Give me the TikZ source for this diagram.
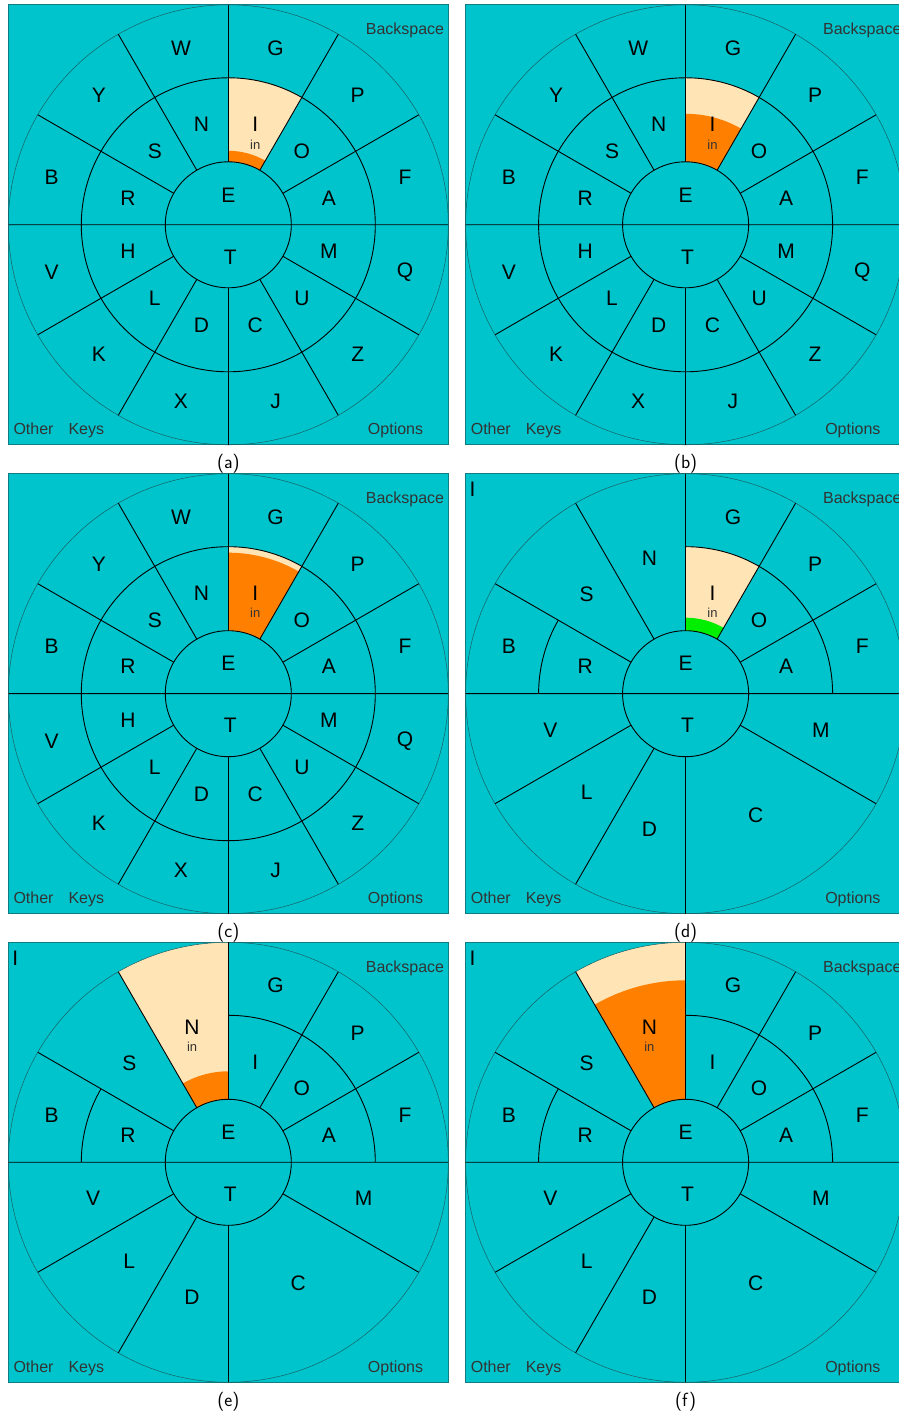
\documentclass[tikz,border=0pt]{standalone}
\usepackage{fontspec}
\setmainfont{Liberation Sans}
\usetikzlibrary{positioning}

\definecolor{keybg}{RGB}{0,196,204}
\definecolor{keyhit}{RGB}{255,228,181}
\definecolor{dwell}{RGB}{255,128,0}
\definecolor{dwellok}{RGB}{0,238,0}
\definecolor{rimgray}{RGB}{25,95,100}

\newcommand{\keysector}[5]{%
  \fill[#5] (#1:#3) -- (#1:#4) arc[start angle=#1, end angle=#2, radius=#4]
    -- (#2:#3) arc[start angle=#2, end angle=#1, radius=#3] -- cycle;}

\newcommand{\kbpanel}[1]{%
  \fill[keybg] (-220,-220) rectangle (220,220);
  \draw[panelframe] (-220,-220) rectangle (220,220);
  \node[cornerlabel, anchor=base east] (#1-bksp) at (216,190) {Backspace};
  \node[cornerlabel, anchor=base west] (#1-other) at (-215,-210) {Other};
  \node[cornerlabel, anchor=base west] (#1-keys) at (-160,-210) {Keys};
  \node[cornerlabel, anchor=base east] (#1-opts) at (195,-210) {Options};
  \node[captionlabel] (#1-cap) at (0,-239) {(#1)};}

\newcommand{\fullwheel}[1]{%
  \draw[wheelline] (0,0) circle[radius=63] (0,0) circle[radius=147] (-220,0) -- (220,0);
  \draw[rimline] (0,0) circle[radius=220];
  \foreach \a in {30,60,90,120,150,210,240,270,300,330}
    \draw[wheelline] (\a:63) -- (\a:220);
  \foreach \a/\m/\o in {15/A/F,45/O/P,75/I/G,105/N/W,135/S/Y,165/R/B,
                        195/H/V,225/L/K,255/D/X,285/C/J,315/U/Z,345/M/Q} {
    \node[keylabel] (#1-\m) at (\a:104) {\m};
    \node[keylabel] (#1-\o) at (\a:183) {\o};}
  \node[keylabel] (#1-E) at (0,30) {E};
  \node[keylabel] (#1-T) at (2,-32) {T};}

\newcommand{\halfwheel}[1]{%
  \draw[wheelline] (0,0) circle[radius=63] (-220,0) -- (220,0)
    (0:147) arc[start angle=0, end angle=90, radius=147]
    (150:147) arc[start angle=150, end angle=180, radius=147];
  \draw[rimline] (0,0) circle[radius=220];
  \foreach \a in {30,60,90,120,150,210,240,270,330}
    \draw[wheelline] (\a:63) -- (\a:220);
  \foreach \a/\m/\o in {15/A/F,45/O/P,75/I/G,165/R/B} {
    \node[keylabel] (#1-\m) at (\a:104) {\m};
    \node[keylabel] (#1-\o) at (\a:183) {\o};}
  \foreach \a/\m in {105/N,135/S,195/V,225/L,255/D,300/C,345/M}
    \node[keylabel] (#1-\m) at (\a:140) {\m};
  \node[keylabel] (#1-E) at (0,30) {E};
  \node[keylabel] (#1-T) at (2,-32) {T};
  \node[keylabel] (#1-typed) at (-213,204) {I};}

\begin{document}
\begin{tikzpicture}[
  x=1pt, y=1pt,
  keylabel/.style={font=\fontsize{21}{21}\selectfont, inner sep=0pt},
  hintlabel/.style={font=\fontsize{13}{13}\selectfont, inner sep=0pt, text=black!80},
  cornerlabel/.style={font=\fontsize{16}{16}\selectfont, inner sep=0pt, text=black!80},
  captionlabel/.style={font=\sffamily\fontsize{19}{19}\selectfont, inner sep=0pt},
  wheelline/.style={draw=black, line width=0.9pt},
  rimline/.style={draw=rimgray, line width=0.5pt},
  panelframe/.style={draw=rimgray!70!keybg, line width=0.8pt}
]
\useasboundingbox (0,0) rectangle (899,1414);
\clip (0,0) rectangle (899,1414);

\begin{scope}[shift={(228.3,1189.2)}]
  \kbpanel{a}
  \keysector{60}{90}{63}{147}{keyhit}
  \keysector{60}{90}{63}{74}{dwell}
  \fullwheel{a}
  \node[hintlabel] (a-in) at ([yshift=-20pt]a-I) {in};
\end{scope}

\begin{scope}[shift={(685.6,1189.2)}]
  \kbpanel{b}
  \keysector{60}{90}{63}{147}{keyhit}
  \keysector{60}{90}{63}{111}{dwell}
  \fullwheel{b}
  \node[hintlabel] (b-in) at ([yshift=-20pt]b-I) {in};
\end{scope}

\begin{scope}[shift={(228.3,720.3)}]
  \kbpanel{c}
  \keysector{60}{90}{63}{147}{keyhit}
  \keysector{60}{90}{63}{141}{dwell}
  \fullwheel{c}
  \node[hintlabel] (c-in) at ([yshift=-20pt]c-I) {in};
\end{scope}

\begin{scope}[shift={(685.6,720.3)}]
  \kbpanel{d}
  \keysector{60}{90}{63}{147}{keyhit}
  \keysector{60}{90}{63}{76}{dwellok}
  \halfwheel{d}
  \node[hintlabel] (d-in) at ([yshift=-20pt]d-I) {in};
\end{scope}

\begin{scope}[shift={(228.3,251.7)}]
  \kbpanel{e}
  \keysector{90}{120}{63}{220}{keyhit}
  \keysector{90}{120}{63}{91}{dwell}
  \halfwheel{e}
  \node[hintlabel] (e-in) at ([yshift=-20pt]e-N) {in};
\end{scope}

\begin{scope}[shift={(685.6,251.7)}]
  \kbpanel{f}
  \keysector{90}{120}{63}{220}{keyhit}
  \keysector{90}{120}{63}{182}{dwell}
  \halfwheel{f}
  \node[hintlabel] (f-in) at ([yshift=-20pt]f-N) {in};
\end{scope}
\end{tikzpicture}
\end{document}
